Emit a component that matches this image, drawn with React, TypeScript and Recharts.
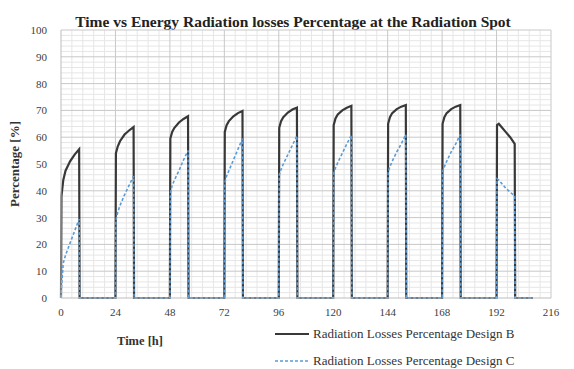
import React from 'react';
import { LineChart, Line, XAxis, YAxis, ReferenceLine, Label } from 'recharts';

// Hourly samples: each day the spot is irradiated for ~8 h, then drops to zero.
const hours = [
  0, 0.2, 1, 2, 4, 6, 8, 8.2,
  24, 24.2, 25, 26, 28, 30, 32, 32.2,
  48, 48.2, 49, 50, 52, 54, 56, 56.2,
  72, 72.2, 73, 74, 76, 78, 80, 80.2,
  96, 96.2, 97, 98, 100, 102, 104, 104.2,
  120, 120.2, 121, 122, 124, 126, 128, 128.2,
  144, 144.2, 145, 146, 148, 150, 152, 152.2,
  168, 168.2, 169, 170, 172, 174, 176, 176.2,
  192, 192.2, 193, 194, 196, 198, 200, 200.2,
  208,
];

const designB = [
  0, 38, 44, 47.5, 51, 53.5, 55.5, 0,
  0, 54, 56.5, 58.5, 61, 62.5, 63.8, 0,
  0, 59.5, 62, 63.5, 65.5, 66.8, 67.8, 0,
  0, 62, 64.5, 66, 67.8, 69, 69.8, 0,
  0, 63.5, 66, 67.5, 69.2, 70.3, 71, 0,
  0, 64.5, 67, 68.5, 70, 71, 71.7, 0,
  0, 65, 67.5, 69, 70.5, 71.4, 72, 0,
  0, 65, 67.5, 69, 70.5, 71.4, 72, 0,
  0, 64.5, 65, 64, 62, 60, 57.5, 0,
  0,
];

const designC = [
  0, 4, 13, 16, 20.5, 25, 29.5, 0,
  0, 29, 32, 34.5, 38.5, 42, 45.5, 0,
  0, 39, 42, 44, 47.5, 51.5, 55, 0,
  0, 43, 45.5, 47.5, 51.5, 55.5, 59.5, 0,
  0, 46, 48, 50, 53.5, 57, 60.5, 0,
  0, 46.5, 48.5, 50.5, 54, 57.5, 60.8, 0,
  0, 47, 49, 51, 54.5, 57.5, 61, 0,
  0, 47, 49, 51, 54.5, 57.5, 61, 0,
  0, 44.5, 44, 43, 41, 39.5, 38, 0,
  0,
];

const xTicks = [0, 24, 48, 72, 96, 120, 144, 168, 192, 216];
const yTicks = [0, 10, 20, 30, 40, 50, 60, 70, 80, 90, 100];

const titleText = 'Time vs Energy Radiation losses Percentage at the Radiation Spot';
const xTitle = 'Time [h]';
const yTitle = 'Percentage [%]';
const seriesNames = ['Radiation Losses Percentage Design B', 'Radiation Losses Percentage Design C'];

const data = hours.map((h, i) => ({ hour: h, b: designB[i], c: designC[i] }));

// minor gridlines: five subdivisions per major step
const minorX: number[] = [];
for (let i = 1; i < 45; i++) if (i % 5 !== 0) minorX.push(i * 4.8);
const minorY: number[] = [];
for (let i = 1; i < 50; i++) if (i % 5 !== 0) minorY.push(i * 2);

const FONT = '"Times New Roman", "Liberation Serif", Tinos, "DejaVu Serif", serif';
const colorB = '#383838';
const colorC = '#5b9bd5';

export default function App() {
  return (
    <div style={{ position: 'absolute', left: 0, top: 0, width: 574, height: 369, background: '#fff', fontFamily: FONT }}>
      <div
        style={{
          position: 'absolute', left: 0, width: 574, top: 13, textAlign: 'center',
          fontWeight: 'bold', fontSize: 15.5, color: '#222', paddingLeft: 12, boxSizing: 'border-box',
          fontFamily: FONT,
        }}
      >
        {titleText}
      </div>
      <LineChart
        width={574}
        height={369}
        data={data}
        margin={{ top: 30, right: 23, bottom: 0, left: 0 }}
        style={{ fontFamily: FONT }}
      >
        {minorY.map((v) => (
          <ReferenceLine key={'my' + v} y={v} stroke="#e6e6e6" strokeWidth={1} />
        ))}
        {minorX.map((v) => (
          <ReferenceLine key={'mx' + v} x={v} stroke="#e6e6e6" strokeWidth={1} />
        ))}
        {yTicks.slice(1).map((v) => (
          <ReferenceLine key={'Y' + v} y={v} stroke="#c8c8c8" strokeWidth={1} />
        ))}
        {xTicks.slice(1).map((v) => (
          <ReferenceLine key={'X' + v} x={v} stroke="#c8c8c8" strokeWidth={1} />
        ))}
        <XAxis
          dataKey="hour"
          type="number"
          domain={[0, 216]}
          ticks={xTicks}
          height={71}
          tickLine={false}
          axisLine={{ stroke: '#bdbdbd' }}
          tick={{ fontSize: 11, fill: '#404040', fontFamily: FONT }}
          tickMargin={4}
          interval={0}
        >
          <Label
            content={({ viewBox }: any) => (
              <text x={140} y={viewBox.y + 47} textAnchor="middle" fontSize={12.5} fontWeight="bold" fill="#333" fontFamily={FONT}>
                {xTitle}
              </text>
            )}
          />
        </XAxis>
        <YAxis
          type="number"
          domain={[0, 100]}
          ticks={yTicks}
          width={61}
          tickLine={false}
          axisLine={{ stroke: '#bdbdbd' }}
          tick={{ fontSize: 11, fill: '#404040', fontFamily: FONT }}
          tickMargin={8}
          interval={0}
        >
          <Label
            content={({ viewBox }: any) => (
              <text
                x={19}
                y={viewBox.y + viewBox.height / 2}
                transform={`rotate(-90 19 ${viewBox.y + viewBox.height / 2})`}
                textAnchor="middle"
                fontSize={13}
                fontWeight="bold"
                fill="#333"
                fontFamily={FONT}
              >
                {yTitle}
              </text>
            )}
          />
        </YAxis>
        <Line
          dataKey="b"
          name={seriesNames[0]}
          stroke={colorB}
          strokeWidth={2.2}
          dot={false}
          type="linear"
          isAnimationActive={false}
        />
        <Line
          dataKey="c"
          name={seriesNames[1]}
          stroke={colorC}
          strokeWidth={1.6}
          strokeDasharray="3 2"
          dot={false}
          type="linear"
          isAnimationActive={false}
        />
      </LineChart>
      {seriesNames.map((name, i) => (
        <div
          key={name}
          style={{
            position: 'absolute', left: 274, top: 326 + i * 27, height: 16,
            display: 'flex', alignItems: 'center', fontSize: 13, color: '#333', whiteSpace: 'nowrap',
            fontFamily: FONT,
          }}
        >
          <svg width={36} height={16} style={{ marginRight: 3 }}>
            <line
              x1={1} y1={8} x2={35} y2={8}
              stroke={i === 0 ? colorB : colorC}
              strokeWidth={i === 0 ? 2.2 : 1.6}
              strokeDasharray={i === 0 ? undefined : '3 2'}
            />
          </svg>
          {name}
        </div>
      ))}
    </div>
  );
}
